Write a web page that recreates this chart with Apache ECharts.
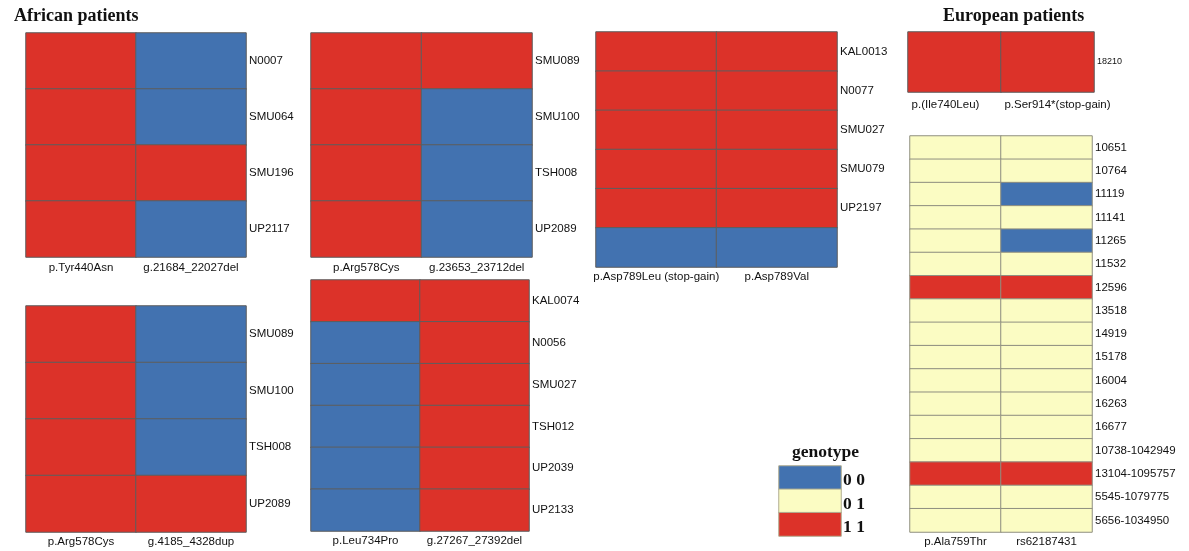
<!DOCTYPE html>
<html>
<head>
<meta charset="utf-8">
<script src="https://cdn.jsdelivr.net/npm/echarts@6/dist/echarts.min.js"></script>
<style>
  html, body { margin: 0; padding: 0; background: #fff; }
  #chart { width: 1189px; height: 551px; }
</style>
</head>
<body>
<div id="chart"></div>
<script>
// Genotype codes: 0 = "0 0", 1 = "0 1", 2 = "1 1"
const genotypeLabels = ['0 0', '0 1', '1 1'];
const genotypeColors = ['#4272B0', '#FBFCC3', '#DC3229'];

// African patients
const afr1Variants = ['p.Tyr440Asn', 'g.21684_22027del'];
const afr1Samples = ['N0007', 'SMU064', 'SMU196', 'UP2117'];
const afr1Genotypes = [[2, 0], [2, 0], [2, 2], [2, 0]];

const afr2Variants = ['p.Arg578Cys', 'g.23653_23712del'];
const afr2Samples = ['SMU089', 'SMU100', 'TSH008', 'UP2089'];
const afr2Genotypes = [[2, 2], [2, 0], [2, 0], [2, 0]];

const afr3Variants = ['p.Asp789Leu (stop-gain)', 'p.Asp789Val'];
const afr3Samples = ['KAL0013', 'N0077', 'SMU027', 'SMU079', 'UP2197', ''];
const afr3Genotypes = [[2, 2], [2, 2], [2, 2], [2, 2], [2, 2], [0, 0]];

const afr4Variants = ['p.Arg578Cys', 'g.4185_4328dup'];
const afr4Samples = ['SMU089', 'SMU100', 'TSH008', 'UP2089'];
const afr4Genotypes = [[2, 0], [2, 0], [2, 0], [2, 2]];

const afr5Variants = ['p.Leu734Pro', 'g.27267_27392del'];
const afr5Samples = ['KAL0074', 'N0056', 'SMU027', 'TSH012', 'UP2039', 'UP2133'];
const afr5Genotypes = [[2, 2], [0, 2], [0, 2], [0, 2], [0, 2], [0, 2]];

// European patients
const eur1Variants = ['p.(Ile740Leu)', 'p.Ser914*(stop-gain)'];
const eur1Samples = ['18210'];
const eur1Genotypes = [[2, 2]];

const eur2Variants = ['p.Ala759Thr', 'rs62187431'];
const eur2Samples = ['10651', '10764', '11119', '11141', '11265', '11532', '12596', '13518',
  '14919', '15178', '16004', '16263', '16677', '10738-1042949', '13104-1095757',
  '5545-1079775', '5656-1034950'];
const eur2Genotypes = [[1, 1], [1, 1], [1, 0], [1, 1], [1, 0], [1, 1], [2, 2], [1, 1],
  [1, 1], [1, 1], [1, 1], [1, 1], [1, 1], [1, 1], [2, 2], [1, 1], [1, 1]];

// Legend key drawn as a one-column heatmap
const legendCodes = [0, 1, 2];

const panels = [
  { variants: afr1Variants, samples: afr1Samples, genotypes: afr1Genotypes,
    box: { left: 26, top: 33, width: 220, height: 224 }, xMargin: 5 },
  { variants: afr2Variants, samples: afr2Samples, genotypes: afr2Genotypes,
    box: { left: 311, top: 33, width: 221, height: 224 }, xMargin: 5 },
  { variants: afr3Variants, samples: afr3Samples, genotypes: afr3Genotypes,
    box: { left: 596, top: 32, width: 241, height: 235 }, xMargin: 4 },
  { variants: eur1Variants, samples: eur1Samples, genotypes: eur1Genotypes,
    box: { left: 908, top: 32, width: 186, height: 60 }, xMargin: 7, ySize: 9,
    xLabelShift: [-9, 10] },
  { variants: afr4Variants, samples: afr4Samples, genotypes: afr4Genotypes,
    box: { left: 26, top: 306, width: 220, height: 226 }, xMargin: 4 },
  { variants: afr5Variants, samples: afr5Samples, genotypes: afr5Genotypes,
    box: { left: 311, top: 280, width: 218, height: 251 }, xMargin: 4 },
  { variants: eur2Variants, samples: eur2Samples, genotypes: eur2Genotypes,
    box: { left: 910, top: 136, width: 182, height: 396 }, xMargin: 4, border: '#8f8f80' }
];

const labelFont = { fontFamily: 'Liberation Sans, Arial, sans-serif', color: '#111' };
const serifBold = { fontFamily: 'Liberation Serif, Times New Roman, serif', fontWeight: 'bold', color: '#111' };

const grids = [], xAxes = [], yAxes = [], series = [];

panels.forEach((p, i) => {
  grids.push(Object.assign({ containLabel: false }, p.box));
  const xLabel = Object.assign({ fontSize: 11.5, margin: p.xMargin, interval: 0 }, labelFont);
  if (p.xLabelShift) {
    // nudge each column label sideways by its own offset
    xLabel.rich = {
      a: { padding: [0, -2 * p.xLabelShift[0], 0, 0], fontSize: 11.5 },
      b: { padding: [0, 0, 0, 2 * p.xLabelShift[1]], fontSize: 11.5 }
    };
    xLabel.formatter = (v, idx) => (idx === 0 ? '{a|' : '{b|') + v + '}';
  }
  xAxes.push({
    type: 'category', gridIndex: i, data: p.variants, position: 'bottom',
    axisLine: { show: false }, axisTick: { show: false }, splitLine: { show: false },
    axisLabel: xLabel
  });
  yAxes.push({
    type: 'category', gridIndex: i, data: p.samples, position: 'right', inverse: true,
    axisLine: { show: false }, axisTick: { show: false }, splitLine: { show: false },
    axisLabel: Object.assign({ fontSize: p.ySize || 11.5, margin: 3, interval: 0 }, labelFont)
  });
  const data = [];
  p.genotypes.forEach((row, r) => row.forEach((g, c) => data.push([c, r, g])));
  series.push({
    type: 'heatmap', xAxisIndex: i, yAxisIndex: i, data: data,
    itemStyle: { borderColor: p.border || '#5e5e5e', borderWidth: 1 },
    emphasis: { disabled: true }
  });
});

// Legend key
const li = panels.length;
grids.push({ left: 779, top: 466, width: 62, height: 70 });
xAxes.push({
  type: 'category', gridIndex: li, data: ['genotype'], show: false
});
yAxes.push({
  type: 'category', gridIndex: li, data: genotypeLabels, position: 'right', inverse: true,
  axisLine: { show: false }, axisTick: { show: false }, splitLine: { show: false },
  axisLabel: Object.assign({
    fontSize: 17.5, margin: 2, interval: 0, verticalAlign: 'top', padding: [-6, 0, 0, 0]
  }, serifBold)
});
series.push({
  type: 'heatmap', xAxisIndex: li, yAxisIndex: li,
  data: legendCodes.map((g, r) => [0, r, g]),
  itemStyle: { borderColor: '#b0ad90', borderWidth: 1 },
  emphasis: { disabled: true }
});

const chart = echarts.init(document.getElementById('chart'), null, { renderer: 'canvas' });
chart.setOption({
  animation: false,
  backgroundColor: '#ffffff',
  title: [
    { text: 'African patients', left: 9, top: 2,
      textStyle: Object.assign({ fontSize: 18 }, serifBold) },
    { text: 'European patients', left: 938, top: 2,
      textStyle: Object.assign({ fontSize: 18 }, serifBold) },
    { text: 'genotype', left: 787, top: 438,
      textStyle: Object.assign({ fontSize: 17.5 }, serifBold) }
  ],
  tooltip: { show: false },
  visualMap: {
    type: 'piecewise', show: false, dimension: 2,
    seriesIndex: series.map((s, i) => i),
    pieces: genotypeColors.map((c, v) => ({ value: v, color: c, label: genotypeLabels[v] }))
  },
  grid: grids,
  xAxis: xAxes,
  yAxis: yAxes,
  series: series
});
</script>
</body>
</html>
